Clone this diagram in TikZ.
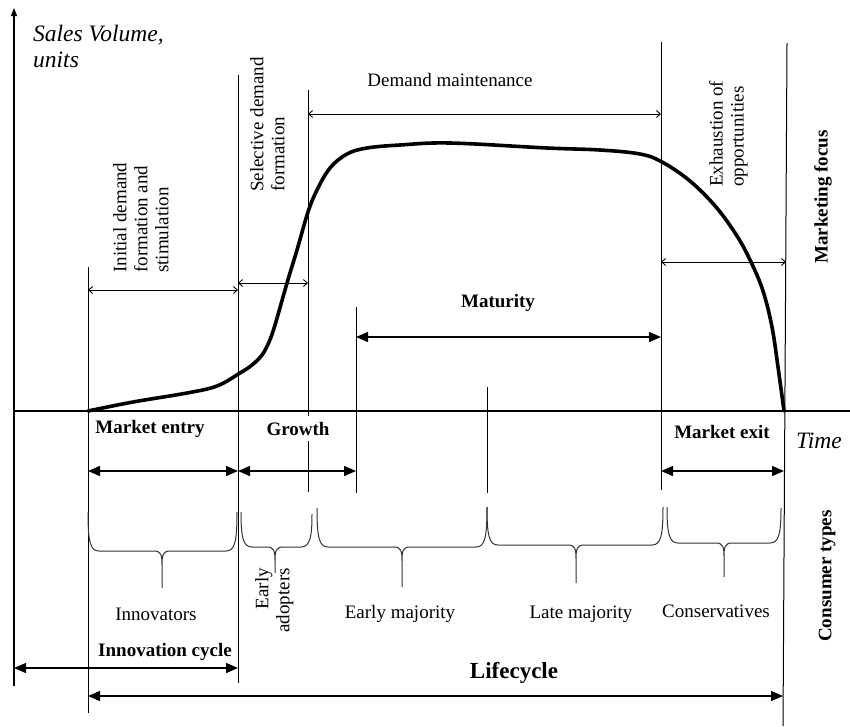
\documentclass[tikz,border=0pt]{standalone}
\usepackage{fontspec}
\setmainfont{Liberation Serif}
\usetikzlibrary{arrows.meta}
% curly brace: #1 a, #2 ya, #3 b, #4 yb, #5 h, #6 m, #7 tip
\newcommand{\mybrace}[7]{%
  \draw[brc] (#1,#2) .. controls (#1,{#5-10}) and ({#1+2},#5) .. ({#1+11},#5)
    -- ({#6-8},#5) .. controls ({#6-1},#5) and (#6,{#5+4}) .. (#6,{#5+14}) -- (#6,#7)
    (#6,{#5+14}) .. controls (#6,{#5+4}) and ({#6+1},#5) .. ({#6+8},#5)
    -- ({#3-11},#5) .. controls ({#3-2},#5) and (#3,{#5-10}) .. (#3,#4);}
\begin{document}
\begin{tikzpicture}[x=1pt,y=-1pt,
  ln/.style={line width=1pt},
  axisline/.style={line width=1.3pt},
  thinarr/.style={line width=0.9pt,{Straight Barb[length=4pt,width=7pt]}-{Straight Barb[length=4pt,width=7pt]}},
  boldarr/.style={line width=1.4pt,{Triangle[length=12pt,width=10pt]}-{Triangle[length=12pt,width=10pt]}},
  salescurve/.style={line width=3.6pt,line cap=round,line join=round},
  brc/.style={line width=1pt,black!80},
  txt/.style={font=\fontsize{19}{21}\selectfont,inner sep=0pt},
  btxt/.style={font=\fontsize{19}{21}\selectfont\bfseries,inner sep=0pt},
  itxt/.style={font=\fontsize{23.5}{27}\selectfont\itshape,inner sep=0pt},
]
\useasboundingbox (0,0) rectangle (850,726);
\fill[white] (0,0) rectangle (850,726);

% axes
\coordinate (yb) at (14,686);
\coordinate (yt) at (14,8);
\coordinate (xl) at (14,411);
\coordinate (xr) at (850,411);
\draw[axisline,-{Triangle[length=8pt,width=6pt]}] (yb) -- (yt);
\draw[axisline] (xl) -- (xr);

% vertical lines
\coordinate (a1) at (88,267);   \coordinate (a2) at (88,713);
\coordinate (b1) at (238,75);   \coordinate (b2) at (238,683);
\coordinate (c1) at (308,90);   \coordinate (c2) at (308,492);
\coordinate (d1) at (356,307);  \coordinate (d2) at (356,493);
\coordinate (e1) at (487,387);  \coordinate (e2) at (487,493);
\coordinate (f1) at (661,42);   \coordinate (f2) at (661,490);
\coordinate (g1) at (787,43);   \coordinate (g2) at (783,726);
\foreach \p in {a,b,c,d,e,f,g} \draw[ln] (\p1) -- (\p2);

% sales curve
\draw[salescurve] plot[smooth,tension=0.6] coordinates {
  (88,411) (133,402) (187,393) (217,386) (240,373) (252,365) (262,355)
  (269,342) (275,325) (287,283) (297,250) (308,212) (317,190) (330,168)
  (347,154) (367,148) (400,145) (450,143) (547,148) (600,150) (640,154)
  (662,162) (690,181) (716,207) (737,236) (751,262) (763,291) (772,327)
  (778,367) (784,411)};

% thin arrows (marketing focus)
\draw[thinarr] (88,290) -- (238,290);
\draw[thinarr] (238,283) -- (308,283);
\draw[thinarr] (308,114) -- (661,114);
\draw[thinarr] (661,262) -- (786,262);

% bold arrows
\draw[boldarr] (356,337) -- (661,337);
\draw[boldarr] (88,471) -- (238,471);
\draw[boldarr] (238,471) -- (356,471);
\draw[boldarr] (661,471) -- (784,471);
\draw[boldarr] (14,668) -- (238,668);
\draw[boldarr] (88,696) -- (783,696);

% braces
\mybrace{88}{512}{237}{512}{551}{162}{588}
\mybrace{241}{512}{312}{514}{547}{275}{573}
\mybrace{317}{508}{487}{507}{547}{402}{587}
\mybrace{487}{507}{663}{507}{545}{576}{583}
\mybrace{667}{507}{781}{508}{543}{724}{577}

% texts
\node[itxt,anchor=base west] (sales) at (33,41) {Sales Volume,};
\node[itxt,anchor=base west] (units) at (33,67) {units};
\node[itxt,anchor=base] (time) at (819,448) {Time};

\node[txt,rotate=90,align=left,anchor=north west] (init) at (113,273)
  {Initial demand\\formation and\\stimulation};
\node[txt,rotate=90,align=left,anchor=north west] (sel) at (250,192)
  {Selective demand\\formation};
\node[txt,anchor=base] (dm) at (450,86) {Demand maintenance};
\node[txt,rotate=90,align=left,anchor=north west] (exh) at (709,187)
  {Exhaustion of\\opportunities};
\node[btxt,rotate=90] (mf) at (823,197) {Marketing focus};

\node[btxt,anchor=base] (mat) at (498,307) {Maturity};
\node[btxt,anchor=base] (entry) at (150,433) {Market entry};
\node[btxt,anchor=base,fill=white,inner xsep=2pt,inner ysep=6pt] (growth) at (298,435) {Growth};
\node[btxt,anchor=base] (exit) at (722,438) {Market exit};

\node[txt,anchor=base] (inn) at (156,620) {Innovators};
\node[txt,rotate=90,align=right,anchor=north east] (ea) at (255,568) {Early\\adopters};
\node[txt,anchor=base] (em) at (400,618) {Early majority};
\node[txt,anchor=base] (lm) at (581,618) {Late majority};
\node[txt,anchor=base] (cons) at (716,617) {Conservatives};
\node[btxt,rotate=90] (ct) at (827,576) {Consumer types};

\node[btxt,anchor=base] (ic) at (165,656) {Innovation cycle};
\node[anchor=base,inner sep=0pt,font=\fontsize{23}{26}\selectfont\bfseries] (lc) at (514,678) {Lifecycle};
\end{tikzpicture}
\end{document}
